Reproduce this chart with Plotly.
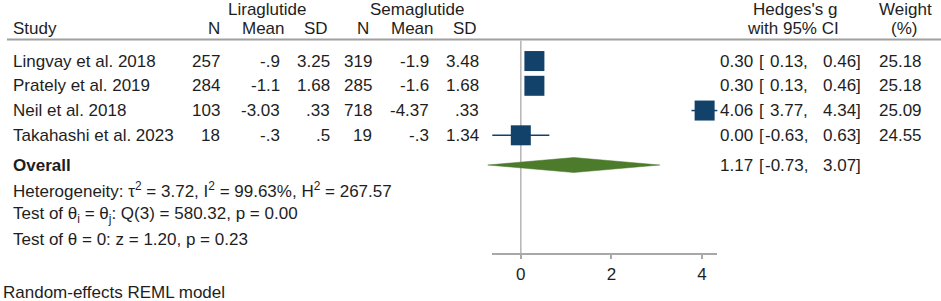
import plotly.graph_objects as go

# ---------------- data ----------------
studies = ["Lingvay et al. 2018", "Prately et al. 2019", "Neil et al. 2018", "Takahashi et al. 2023"]
lira_n = ["257", "284", "103", "18"]
lira_mean = ["-.9", "-1.1", "-3.03", "-.3"]
lira_sd = ["3.25", "1.68", ".33", ".5"]
sema_n = ["319", "285", "718", "19"]
sema_mean = ["-1.9", "-1.6", "-4.37", "-.3"]
sema_sd = ["3.48", "1.68", ".33", "1.34"]
hedges_g = [0.30, 0.30, 4.06, 0.00]
ci_low = [0.13, 0.13, 3.77, -0.63]
ci_high = [0.46, 0.46, 4.34, 0.63]
weights = [25.18, 25.18, 25.09, 24.55]
overall = {"g": 1.17, "lo": -0.73, "hi": 3.07}
x_ticks = [0, 2, 4]
stat_lines = [
    "Heterogeneity: τ<sup>2</sup> = 3.72, I<sup>2</sup> = 99.63%, H<sup>2</sup> = 267.57",
    "Test of θ<sub>i</sub> = θ<sub>j</sub>: Q(3) = 580.32, p = 0.00",
    "Test of θ = 0: z = 1.20, p = 0.23",
]
note = "Random-effects REML model"

# ---------------- layout constants ----------------
W, H = 941, 301
ROW0, ROWH = 36.3, 24.75          # pixel y of row r = ROW0 + ROWH*r
AX_L, AX_R = 492.3, 717.3          # pixel extent of the x axis line
AX_Y = 254.3                       # pixel y of x axis line
FS = 17
FONT = "Liberation Sans, Arial, sans-serif"
TXT = "#1e1e1e"
NAVY = "#12426a"
GREEN = "#4b7b2b"
GRAY = "#a8a8a8"

lo_ax, hi_ax = min(ci_low), max(ci_high)
scale = (AX_R - AX_L) / (hi_ax - lo_ax)       # px per unit
x0_px = AX_L - lo_ax * scale
main_range = [-x0_px / scale, (W - x0_px) / scale]
y_top, y_bot = -ROW0 / ROWH, (H - ROW0) / ROWH
row_axis = (AX_Y - ROW0) / ROWH
row_hline = 0.13

study_rows = [1, 2, 3, 4]
row_overall = 5.2
stat_rows = [6.23, 7.2, 8.22]
row_note = 10.37
row_grp = -1.1
row_hdr = -0.33

def px(x):
    return x / W

fig = go.Figure()

# reference line at 0
fig.add_trace(go.Scatter(x=[0, 0], y=[row_hline + 0.05, row_axis], mode="lines",
                         line=dict(color="#b4b4b4", width=1.5), hoverinfo="skip", showlegend=False))

# CI whiskers
for r, lo, hi in zip(study_rows, ci_low, ci_high):
    fig.add_trace(go.Scatter(x=[lo, hi], y=[r, r], mode="lines",
                             line=dict(color=NAVY, width=1.5), hoverinfo="skip", showlegend=False))

# squares
fig.add_trace(go.Scatter(x=hedges_g, y=study_rows, mode="markers",
                         marker=dict(symbol="square", size=20, color=NAVY, line=dict(width=0)),
                         showlegend=False, cliponaxis=False))

# overall diamond
hd = 7.5 / ROWH
fig.add_trace(go.Scatter(
    x=[overall["lo"], overall["g"], overall["hi"], overall["g"], overall["lo"]],
    y=[row_overall, row_overall - hd, row_overall, row_overall + hd, row_overall],
    mode="lines", fill="toself", fillcolor=GREEN, line=dict(color=GREEN, width=0.5),
    hoverinfo="skip", showlegend=False))

# invisible trace for the displayed axis
fig.add_trace(go.Scatter(x=[lo_ax, hi_ax], y=[row_axis, row_axis], xaxis="x2", mode="markers",
                         marker=dict(opacity=0), hoverinfo="skip", showlegend=False))

ann = []
def add(text, xpix, row, anchor="right", bold=False):
    ann.append(dict(text=("<b>%s</b>" % text) if bold else text, x=px(xpix), xref="paper",
                    y=row, yref="y", xanchor=anchor, yanchor="middle", showarrow=False,
                    font=dict(size=FS, color=TXT, family=FONT)))

# headers
add("Liraglutide", 267, row_grp, "center")
add("Semaglutide", 417, row_grp, "center")
add("Hedges's g", 795, row_grp, "center")
add("Weight", 905, row_grp, "center")
add("Study", 11, row_hdr, "left")
add("N", 221.5, row_hdr)
add("Mean", 286.5, row_hdr)
add("SD", 329.5, row_hdr)
add("N", 370.5, row_hdr)
add("Mean", 435.5, row_hdr)
add("SD", 478.5, row_hdr)
add("with 95% CI", 793, row_hdr, "center")
add("(%)", 904, row_hdr, "center")

# rows
for i, r in enumerate(study_rows):
    add(studies[i], 11, r, "left")
    add(lira_n[i], 222, r)
    add(lira_mean[i], 281.5, r)
    add(lira_sd[i], 331.5, r)
    add(sema_n[i], 373.5, r)
    add(sema_mean[i], 430.5, r)
    add(sema_sd[i], 480.5, r)
    add("%.2f" % hedges_g[i], 755, r)
    add("[", 756.5, r, "left")
    add("%.2f," % ci_low[i], 810, r)
    add("%.2f]" % ci_high[i], 862.5, r)
    add("%.2f" % weights[i], 923.5, r)

add("Overall", 11, row_overall, "left", bold=True)
add("%.2f" % overall["g"], 755, row_overall)
add("[", 756.5, row_overall, "left")
add("%.2f," % overall["lo"], 810, row_overall)
add("%.2f]" % overall["hi"], 862.5, row_overall)

for s, r in zip(stat_lines, stat_rows):
    add(s, 11, r, "left")
add(note, 0.5, row_note, "left")

fig.update_layout(
    width=W, height=H, margin=dict(l=0, r=0, t=0, b=0),
    paper_bgcolor="white", plot_bgcolor="rgba(0,0,0,0)",
    font=dict(family=FONT, size=FS, color=TXT),
    xaxis=dict(domain=[0, 1], range=main_range, visible=False, fixedrange=True),
    xaxis2=dict(domain=[px(AX_L), px(AX_R)], range=[lo_ax, hi_ax], anchor="free",
                position=1 - AX_Y / H, showline=True, linecolor=GRAY, linewidth=2,
                ticks="outside", ticklen=4, tickwidth=2, tickcolor=GRAY,
                tickvals=x_ticks, ticktext=[str(t) for t in x_ticks], showgrid=False,
                zeroline=False, tickfont=dict(size=FS, color=TXT, family=FONT), fixedrange=True),
    yaxis=dict(domain=[0, 1], range=[y_bot, y_top], visible=False, fixedrange=True),
    annotations=ann,
    shapes=[dict(type="line", xref="paper", yref="y", x0=px(7), x1=1,
                 y0=row_hline, y1=row_hline, line=dict(color="#a0a0a0", width=2))],
)

fig.write_html("out.html", config={"displayModeBar": False},
               post_script="document.body.style.margin='0px';document.body.style.overflow='hidden';")
